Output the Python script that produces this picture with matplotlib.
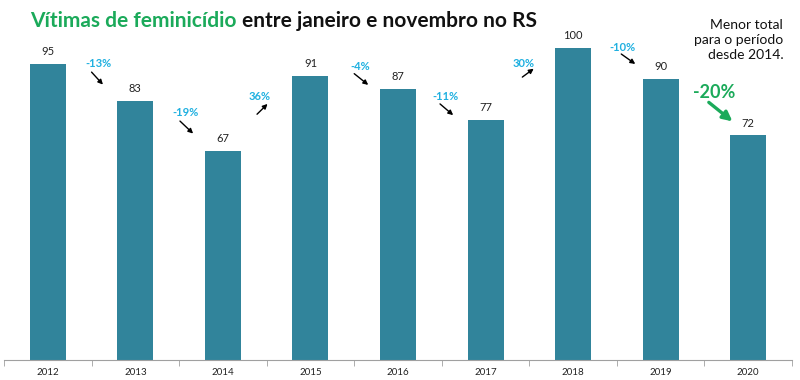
import matplotlib
matplotlib.use("Agg")
import matplotlib.pyplot as plt
import numpy as np

years = ["2012", "2013", "2014", "2015", "2016", "2017", "2018", "2019", "2020"]
values = [95, 83, 67, 91, 87, 77, 100, 90, 72]
changes = ["-13%", "-19%", "36%", "-4%", "-11%", "30%", "-10%", "-20%"]

plt.rcParams['font.family'] = ['Lato', 'DejaVu Sans']

fig = plt.figure(figsize=(8, 3.8), dpi=100)
ax = fig.add_axes([0.005, 0.0526, 0.985, 0.921])
x = np.arange(len(years))
bar_color = "#31849B"
ax.bar(x, values, width=0.41, color=bar_color, zorder=2)
ax.set_xlim(-0.5, len(years) - 0.5)
ax.set_ylim(0, 112.2)

for xi, v in zip(x, values):
    ax.text(xi, v + 2.2, str(v), ha="center", va="bottom", fontsize=8, color="#222222")

# annotation layout: (text x, text y, arrow start, arrow end)
layout = [
    (0.573, 94.9, (0.50, 92.3), (0.63, 88.3)),
    (1.578, 79.5, (1.51, 76.6), (1.66, 72.6)),
    (2.42, 84.6, (2.39, 78.8), (2.51, 82.1)),
    (3.564, 94.2, (3.50, 91.8), (3.66, 88.2)),
    (4.546, 84.6, (4.48, 82.1), (4.63, 78.5)),
    (5.43, 95.2, (5.42, 90.7), (5.55, 93.4)),
    (6.566, 100.3, (6.55, 98.1), (6.71, 94.9)),
]
cyan = "#1FB0E0"
for lab, (tx, ty, a0, a1) in zip(changes[:-1], layout):
    ax.text(tx, ty, lab, ha="center", va="center", fontsize=8, color=cyan, fontweight="bold")
    ax.annotate("", xy=a1, xytext=a0,
                arrowprops=dict(arrowstyle="-|>", color="black", lw=1.0, mutation_scale=7,
                                shrinkA=0, shrinkB=0))

green = "#1BAA5A"
ax.text(7.616, 85.9, changes[-1], ha="center", va="center", fontsize=13, color=green, fontweight="bold")
ax.annotate("", xy=(7.82, 76.5), xytext=(7.55, 82.6),
            arrowprops=dict(arrowstyle="-|>", color=green, lw=2.4, mutation_scale=14,
                            shrinkA=0, shrinkB=0))

for s in ["top", "right", "left"]:
    ax.spines[s].set_visible(False)
ax.spines["bottom"].set_color("#A0A0A0")
ax.set_yticks([])
ax.set_xticks(x)
ax.set_xticklabels(years, fontsize=7, color="#222222")
ax.tick_params(axis="x", length=0, pad=6)
ax.set_xticks(np.arange(-0.5, len(years)), minor=True)
ax.tick_params(axis="x", which="minor", length=4, color="#A0A0A0")

# Title in two colours, fitted to span ~505 px starting at x=30
renderer = fig.canvas.get_renderer()
fs = 17
t1 = fig.text(30 / 800, 0.945, "Vítimas de feminicídio ", fontsize=fs, fontweight="bold", color=green,
              ha="left", va="center")
t2 = fig.text(0, 0.945, "entre janeiro e novembro no RS", fontsize=fs, fontweight="bold", color="#111111",
              ha="left", va="center")
w1 = t1.get_window_extent(renderer).width
w2 = t2.get_window_extent(renderer).width
scale = 505.0 / (w1 + w2)
fs2 = fs * scale
t1.set_fontsize(fs2)
t2.set_fontsize(fs2)
w1 = t1.get_window_extent(renderer).width
t2.set_x((30 + w1) / 800)

fig.text(0.979, 0.895, "Menor total\npara o período\ndesde 2014.", fontsize=10, ha="right", va="center",
         color="#111111", linespacing=1.3)

fig.savefig("out.png", dpi=100)
